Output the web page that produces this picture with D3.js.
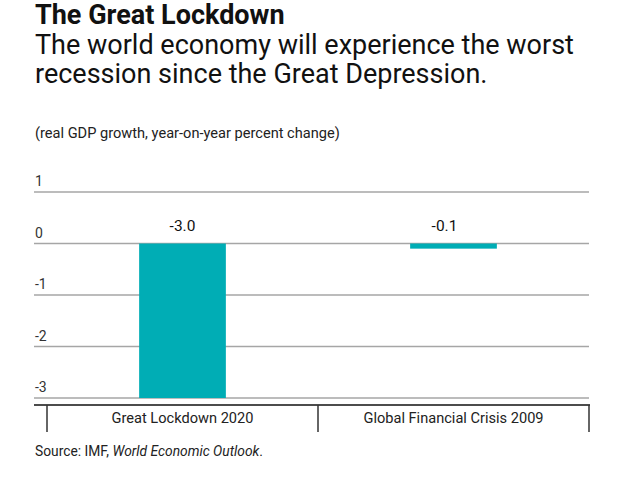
<!DOCTYPE html>
<html>
<head>
<meta charset="utf-8">
<script src="https://cdn.jsdelivr.net/npm/d3@7"></script>
<style>
  body { margin: 0; background: #fff; }
  text { font-family: Roboto, "Noto Sans", sans-serif; }
</style>
</head>
<body>
<div id="chart"></div>
<script>
// dados
const categories = ['Great Lockdown 2020', 'Global Financial Crisis 2009'];
const growth = [-3.0, -0.1];
const valueLabels = ['-3.0', '-0.1'];
const yTicks = [1, 0, -1, -2, -3];

const W = 626, H = 488;
const svg = d3.select('#chart').append('svg')
  .attr('width', W).attr('height', H);

// títulos
svg.append('text').attr('x', 35).attr('y', 24)
  .style('font-size', '27px').style('font-weight', 'bold').attr('fill', '#111')
  .text('The Great Lockdown');
svg.append('text').attr('x', 35).attr('y', 54)
  .style('font-size', '27px').attr('fill', '#111')
  .text('The world economy will experience the worst');
svg.append('text').attr('x', 35).attr('y', 83)
  .style('font-size', '27px').attr('fill', '#111')
  .text('recession since the Great Depression.');
svg.append('text').attr('x', 35).attr('y', 138)
  .style('font-size', '14.6px').attr('fill', '#222')
  .text('(real GDP growth, year-on-year percent change)');

// escalas
const y = d3.scaleLinear().domain([-3, 1]).range([398, 192]);
const x = d3.scaleBand().domain(categories).range([47, 589]);
const barW = x.bandwidth() * 0.32;

// grid
const grid = svg.append('g');
grid.selectAll('line').data(yTicks).enter().append('line')
  .attr('x1', 34).attr('x2', 589)
  .attr('y1', d => y(d)).attr('y2', d => y(d))
  .attr('stroke', '#a6a6a6').attr('stroke-width', 1.5);
grid.selectAll('text').data(yTicks).enter().append('text')
  .attr('x', 35).attr('y', d => y(d) - 6)
  .style('font-size', '14px').attr('fill', '#333')
  .text(d => d);

// barras
svg.selectAll('.bar').data(growth).enter().append('rect')
  .attr('class', 'bar')
  .attr('x', (d, i) => x(categories[i]) + (x.bandwidth() - barW) / 2)
  .attr('width', barW)
  .attr('y', d => y(Math.max(0, d)))
  .attr('height', d => Math.abs(y(d) - y(0)))
  .attr('fill', '#00adb5');

// rótulo da segunda barra fica um pouco à esquerda no original
svg.selectAll('.val').data(growth).enter().append('text')
  .attr('class', 'val')
  .attr('x', (d, i) => x(categories[i]) + x.bandwidth() / 2 - (i === 1 ? 9 : 0))
  .attr('y', y(0) - 13)
  .attr('text-anchor', 'middle')
  .style('font-size', '15.5px').attr('fill', '#111')
  .text((d, i) => valueLabels[i]);

// eixo x
svg.append('line').attr('x1', 34).attr('x2', 590).attr('y1', 405).attr('y2', 405)
  .attr('stroke', '#111').attr('stroke-width', 1.5);
const edges = [x(categories[0]), x(categories[1]), x(categories[1]) + x.bandwidth()];
svg.selectAll('.tk').data(edges).enter().append('line')
  .attr('x1', d => d).attr('x2', d => d).attr('y1', 405).attr('y2', 432)
  .attr('stroke', '#333').attr('stroke-width', 1.5);
svg.selectAll('.cat').data(categories).enter().append('text')
  .attr('x', d => x(d) + x.bandwidth() / 2).attr('y', 423)
  .attr('text-anchor', 'middle')
  .style('font-size', '14.6px').attr('fill', '#222')
  .text(d => d);

// fonte
const src = svg.append('text').attr('x', 35).attr('y', 456)
  .style('font-size', '13.8px').attr('fill', '#222');
src.append('tspan').text('Source: IMF, ');
src.append('tspan').style('font-style', 'italic').text('World Economic Outlook');
src.append('tspan').text('.');
</script>
</body>
</html>
